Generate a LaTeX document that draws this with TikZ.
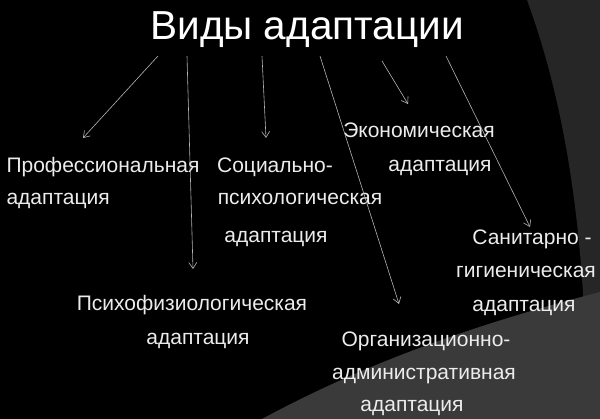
\documentclass[tikz,border=0pt]{standalone}
\usepackage{fontspec}
\setmainfont{Liberation Sans}
\newfontfamily\titlefont{Liberation Sans}
\newfontfamily\bodyfont{Liberation Sans}
\usetikzlibrary{arrows.meta}
\definecolor{txt}{HTML}{ECECEC}
\definecolor{ln}{HTML}{B4B4B4}
\definecolor{bgA}{HTML}{262626}
\definecolor{bgB}{HTML}{3A3A3A}
\tikzset{
  lbl/.style={anchor=base, inner sep=0pt, text=txt, font=\bodyfont\fontsize{21}{25}\selectfont},
  ttl/.style={anchor=base, inner sep=0pt, text=white, font=\titlefont\fontsize{40.5}{48}\selectfont},
  arr/.style={draw=ln, line width=0.6pt, -{Straight Barb[length=6pt,width=8pt,line width=0.6pt]}}
}
\begin{document}
\begin{tikzpicture}[x=1pt,y=-1pt]
\useasboundingbox (0,0) rectangle (600,419);
\fill[black] (0,0) rectangle (600,419);
\fill[bgA] (527,0) .. controls (560,90) and (588,220) .. (586,419) -- (600,419) -- (600,0) -- cycle;
\fill[bgB] (262,419) .. controls (380,355) and (500,318) .. (600,292) -- (600,419) -- cycle;

\node[ttl] (title) at (307,40) {Виды адаптации};

\node[lbl] (p1) at (103,173) {Профессиональная};
\node[lbl, anchor=base west] (p2) at (p1.base west |- 0,205) {адаптация};

\node[lbl] (s1) at (275,173) {Социально-};
\node[lbl] (s2) at (300,205) {психологическая};
\node[lbl] (s3) at (276,243) {адаптация};

\node[lbl] (e1) at (419,138) {Экономическая};
\node[lbl] (e2) at (440,172) {адаптация};

\node[lbl] (g1) at (532,245) {Санитарно -};
\node[lbl] (g2) at (526,278) {гигиеническая};
\node[lbl] (g3) at (524,312) {адаптация};

\node[lbl] (f1) at (192,311) {Психофизиологическая};
\node[lbl] (f2) at (198,345) {адаптация};

\node[lbl] (o1) at (426,347) {Организационно-};
\node[lbl] (o2) at (424,380) {административная};
\node[lbl] (o3) at (412,412) {адаптация};

\coordinate (a1) at (158,56);
\coordinate (a2) at (187,56);
\coordinate (a3) at (262,56);
\coordinate (a4) at (320,56);
\coordinate (a5) at (382,61);
\coordinate (a6) at (446,56);
\coordinate (b1) at (83,138);
\coordinate (b2) at (193,269);
\coordinate (b3) at (266,138);
\coordinate (b4) at (399,304);
\coordinate (b5) at (408,104);
\coordinate (b6) at (530,227);

\draw[arr] (a1) -- (b1);
\draw[arr] (a2) -- (b2);
\draw[arr] (a3) -- (b3);
\draw[arr] (a4) -- (b4);
\draw[arr] (a5) -- (b5);
\draw[arr] (a6) -- (b6);
\end{tikzpicture}
\end{document}
